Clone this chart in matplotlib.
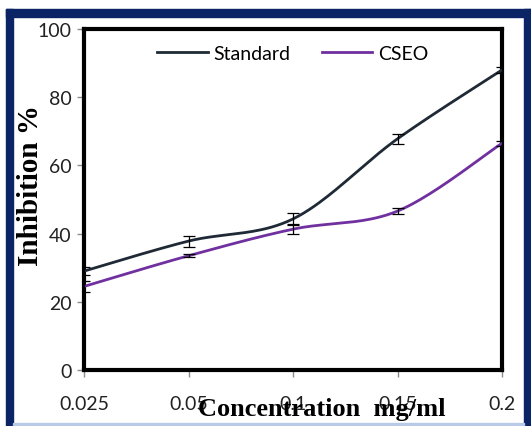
import numpy as np
import matplotlib
matplotlib.use("Agg")
import matplotlib.pyplot as plt
from matplotlib.patches import Rectangle

# data
conc = ["0.025", "0.05", "0.1", "0.15", "0.2"]
standard = [29.0, 37.8, 44.3, 67.8, 88.0]
standard_err = [1.2, 1.6, 1.8, 1.5, 1.0]
cseo = [24.5, 33.5, 41.3, 46.6, 66.5]
cseo_err = [1.5, 0.5, 1.4, 0.8, 0.8]

std_color = "#1f2a36"
cseo_color = "#7030a0"
navy = "#0b2466"


def smooth(xs, ys, n=40):
    # catmull-rom curve through the points, like excel's smoothed line
    p = np.column_stack([xs, ys]).astype(float)
    p = np.vstack([p[0], p, p[-1]])
    out = []
    for i in range(1, len(p) - 2):
        p0, p1, p2, p3 = p[i - 1], p[i], p[i + 1], p[i + 2]
        t = np.linspace(0, 1, n)[:, None]
        seg = 0.5 * ((2 * p1) + (-p0 + p2) * t
                     + (2 * p0 - 5 * p1 + 4 * p2 - p3) * t ** 2
                     + (-p0 + 3 * p1 - 3 * p2 + p3) * t ** 3)
        out.append(seg)
    out = np.vstack(out)
    return out[:, 0], out[:, 1]


fig = plt.figure(figsize=(5.31, 4.27), dpi=100)
ax = fig.add_axes([84 / 531, 1 - 371 / 427, (502 - 84) / 531, (371 - 30) / 427])

x = np.arange(len(conc))
sx, sy = smooth(x, standard)
cx, cy = smooth(x, cseo)
ax.plot(sx, sy, color=std_color, lw=2.0, label="Standard", zorder=3)
ax.plot(cx, cy, color=cseo_color, lw=2.0, label="CSEO", zorder=3)
ax.errorbar(x, standard, yerr=standard_err, fmt="none", ecolor="black",
            elinewidth=0.9, capsize=4, capthick=0.9, zorder=4)
ax.errorbar(x, cseo, yerr=cseo_err, fmt="none", ecolor="black",
            elinewidth=0.9, capsize=4, capthick=0.9, zorder=4)

ax.set_xlim(0, 4)
ax.set_ylim(0, 100)
ax.set_yticks(range(0, 101, 20))
ax.set_xticks(x)
ax.set_xticklabels(conc)

tick_font = "Lato"
for lab in ax.get_xticklabels() + ax.get_yticklabels():
    lab.set_fontfamily(tick_font)
    lab.set_fontsize(14)
    lab.set_color("#222222")
ax.tick_params(axis="both", color="#8c8c8c", length=5, width=1, direction="out")
ax.tick_params(axis="x", pad=13)
ax.tick_params(axis="y", pad=4)

for s in ax.spines.values():
    s.set_linewidth(3)
    s.set_color("black")

leg = ax.legend(loc="upper center", bbox_to_anchor=(0.5, 1.005), ncol=2,
                frameon=False, handlelength=2.6, handletextpad=0.3,
                columnspacing=1.6, prop={"family": tick_font, "size": 14})

fig.text(322 / 531, 1 - 410 / 427, "Concentration  mg/ml", ha="center", va="center",
         family="Liberation Serif", weight="bold", fontsize=19)
fig.text(31 / 531, 1 - 185 / 427, "Inhibition %", ha="center", va="center",
         rotation=90, family="Liberation Serif", weight="bold", fontsize=21)

# dark blue frame around the picture, open at the bottom
fig.add_artist(Rectangle((6 / 531, 0), 7 / 531, 417 / 427, transform=fig.transFigure,
                         color=navy, zorder=0))
fig.add_artist(Rectangle((6 / 531, 1 - 18 / 427), 525 / 531, 8 / 427,
                         transform=fig.transFigure, color=navy, zorder=0))
fig.add_artist(Rectangle((524 / 531, 0), 7 / 531, 417 / 427, transform=fig.transFigure,
                         color=navy, zorder=0))
fig.add_artist(Rectangle((13 / 531, 1 / 427), 511 / 531, 2 / 427,
                         transform=fig.transFigure, color="#b9c9e8", zorder=0))

fig.savefig("out.png", dpi=100)
